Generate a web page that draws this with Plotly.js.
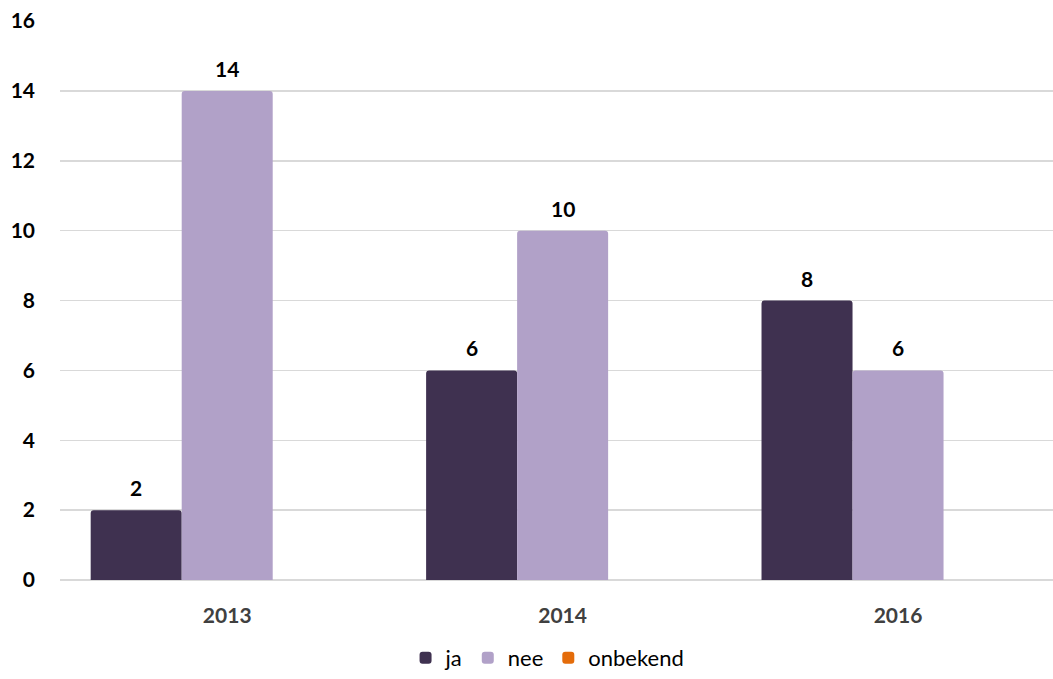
<!DOCTYPE html>
<html><head><meta charset="utf-8">
<script src="https://cdn.plot.ly/plotly-3.0.1.min.js"></script>
<style>html,body{margin:0;padding:0;background:#fff}#c{width:1053px;height:679px}</style>
</head><body><div id="c"></div>
<script>
const years = ['2013', '2014', '2016'];
const ja = [2, 6, 8];
const nee = [14, 10, 6];
const onbekend = [0, 0, 0];

const font = 'Lato, "Open Sans", sans-serif';
const barPx = 91; // pixel width of one bar (offset for labels)
function bar(name, vals, color) {
  return {
    type: 'bar', name: name, x: years, y: vals,
    marker: {color: color, cornerradius: 3, line: {width: 0}},
    textposition: 'none',
    hoverinfo: 'x+y+name'
  };
}
const data = [
  bar('ja', ja, '#3f3150'),
  bar('nee', nee, '#b1a1c8'),
  bar('onbekend', onbekend, '#e46c0a')
];
const annotations = [];
years.forEach((yr, i) => {
  annotations.push({xref: 'x', yref: 'y', x: i, y: ja[i], text: String(ja[i]), showarrow: false,
    xanchor: 'center', yanchor: 'bottom', xshift: -barPx, yshift: 8,
    font: {family: font, size: 21, color: '#000', weight: 'bold'}});
  annotations.push({xref: 'x', yref: 'y', x: i, y: nee[i], text: String(nee[i]), showarrow: false,
    xanchor: 'center', yanchor: 'bottom', xshift: 0, yshift: 8,
    font: {family: font, size: 21, color: '#000', weight: 'bold'}});
});
const layout = {
  width: 1053, height: 679,
  margin: {l: 60, r: 0, t: 21, b: 99},
  paper_bgcolor: '#fff', plot_bgcolor: '#fff',
  barmode: 'group', bargap: 0.186, bargroupgap: 0,
  font: {family: font, color: '#000'},
  annotations: annotations,
  xaxis: {
    type: 'category', range: [-0.4985, 2.462],
    showgrid: false, zeroline: false, showline: false, ticks: '',
    tickfont: {family: font, size: 21, color: '#404040', weight: 'bold'},
    ticklabelstandoff: 21
  },
  yaxis: {
    range: [0, 16], dtick: 2, tick0: 0,
    showgrid: true, gridcolor: '#d9d9d9', gridwidth: 1.5,
    zeroline: true, zerolinecolor: '#d9d9d9', zerolinewidth: 1.5,
    showline: false, ticks: '',
    tickfont: {family: font, size: 21, color: '#000', weight: 'bold'},
    ticklabelstandoff: 24
  },
  showlegend: true,
  legend: {
    orientation: 'h', xref: 'container', yref: 'container',
    x: 0.52, xanchor: 'center', y: -0.02, yanchor: 'bottom',
    font: {family: font, size: 22, color: '#000'},
    itemwidth: 30, tracegroupgap: 0
  }
};
Plotly.newPlot('c', data, layout, {displayModeBar: false, staticPlot: true});
</script></body></html>
